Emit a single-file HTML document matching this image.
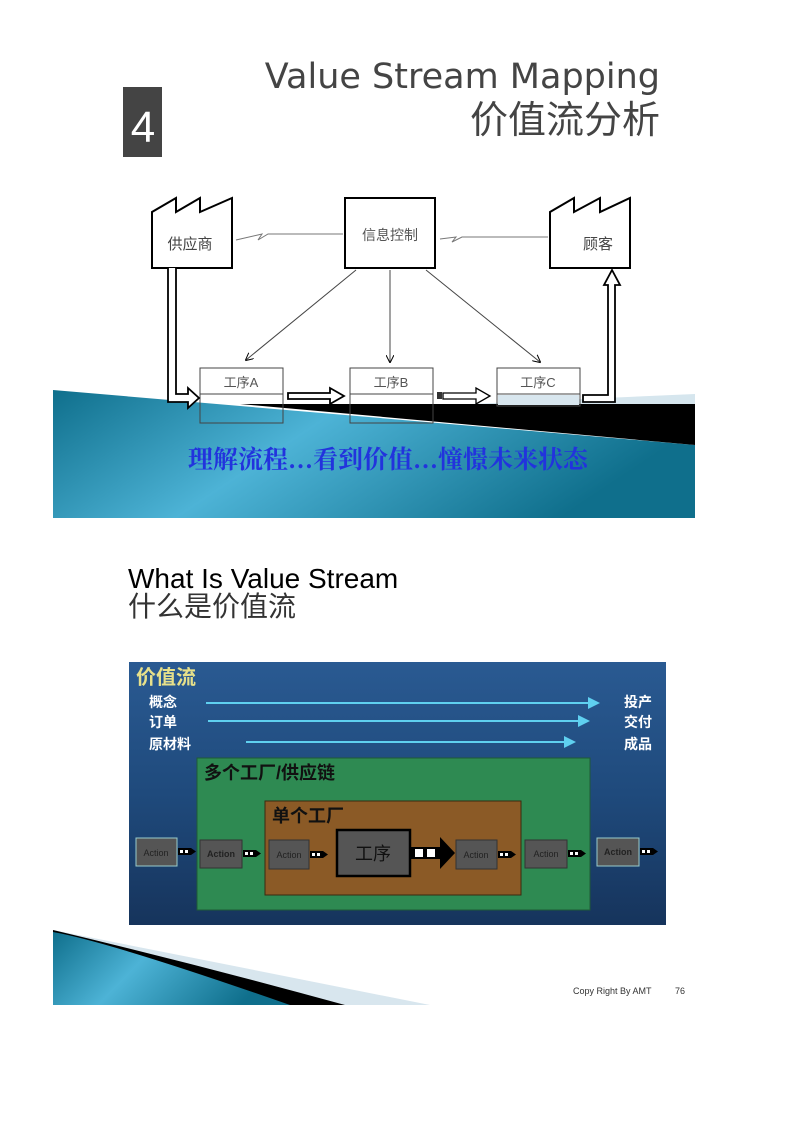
<!DOCTYPE html>
<html><head><meta charset="utf-8"><style>
body{margin:0;background:#fff;}
svg{display:block;}
text{font-family:"Liberation Sans","Noto Sans CJK SC",sans-serif;}
</style></head><body>
<svg width="794" height="1123" viewBox="0 0 794 1123">
<defs>
<linearGradient id="teal" x1="0" y1="0" x2="1" y2="0.3">
<stop offset="0" stop-color="#0f6f8c"/><stop offset="0.45" stop-color="#4db3d6"/><stop offset="1" stop-color="#0f6f8c"/>
</linearGradient>
<linearGradient id="navy" x1="0" y1="0" x2="0" y2="1">
<stop offset="0" stop-color="#2a5a92"/><stop offset="0.5" stop-color="#1f4a7c"/><stop offset="1" stop-color="#16345c"/>
</linearGradient>
<marker id="ah" markerWidth="8" markerHeight="8" refX="7" refY="4" orient="auto"><path d="M0,0 L8,4 L0,8" fill="none" stroke="#000" stroke-width="1"/></marker>
<marker id="ahc" markerWidth="6" markerHeight="6" refX="5" refY="3" orient="auto"><path d="M0,0 L6,3 L0,6z" fill="#5fd0f0"/></marker>
</defs>

<!-- header -->
<rect x="123" y="87" width="39" height="70" fill="#444"/>
<text x="143" y="142" font-size="44" fill="#fff" text-anchor="middle">4</text>
<text x="660" y="88" fill="#444" text-anchor="end" style="font-family:'DejaVu Sans',sans-serif;font-size:35px">Value Stream Mapping</text>
<text x="660" y="133" font-size="38" fill="#444" text-anchor="end">价值流分析</text>

<!-- banner -->
<polygon points="53,390 695,445 695,518 53,518" fill="url(#teal)"/>
<polygon points="470,404 695,394 695,404" fill="#d6e6ee"/>
<polygon points="240,404 695,404 695,445" fill="#000"/>
<text x="388" y="468" fill="#2233dd" text-anchor="middle" font-weight="bold" style="font-family:'Liberation Serif','Noto Serif CJK SC',serif;font-size:25px">理解流程…看到价值…憧憬未来状态</text>

<!-- factories -->
<path d="M152,268 L152,212 L176,198 L176,212 L200,198 L200,212 L232,198 L232,268 Z" fill="#fff" stroke="#000" stroke-width="2"/>
<text x="190" y="249" font-size="15" fill="#444" text-anchor="middle">供应商</text>
<path d="M550,268 L550,212 L574,198 L574,212 L600,198 L600,212 L630,198 L630,268 Z" fill="#fff" stroke="#000" stroke-width="2"/>
<text x="598" y="249" font-size="15" fill="#444" text-anchor="middle">顾客</text>
<rect x="345" y="198" width="90" height="70" fill="#fff" stroke="#000" stroke-width="2"/>
<text x="390" y="240" font-size="14" fill="#555" text-anchor="middle">信息控制</text>

<!-- info lines -->
<path d="M343,234 L268,234 L258,240 L262,234 L236,240" fill="none" stroke="#777" stroke-width="1"/>
<path d="M548,237 L462,237 L452,242 L456,237 L440,239" fill="none" stroke="#777" stroke-width="1"/>
<line x1="356" y1="270" x2="246" y2="360" stroke="#444" marker-end="url(#ah)"/>
<line x1="390" y1="270" x2="390" y2="362" stroke="#444" marker-end="url(#ah)"/>
<line x1="426" y1="270" x2="540" y2="362" stroke="#444" marker-end="url(#ah)"/>

<!-- process boxes -->
<g fill="none" stroke="#444" stroke-width="1">
<rect x="200" y="368" width="83" height="55"/><line x1="200" y1="394" x2="283" y2="394"/>
<rect x="350" y="368" width="83" height="55"/><line x1="350" y1="394" x2="433" y2="394"/>
<rect x="497" y="368" width="83" height="38"/><line x1="497" y1="394" x2="580" y2="394"/>
</g>
<rect x="201" y="369" width="81" height="24" fill="#fff"/>
<rect x="351" y="369" width="81" height="24" fill="#fff"/>
<rect x="498" y="369" width="81" height="24" fill="#fff"/>
<rect x="498" y="395" width="81" height="10" fill="#d8e6ee"/>
<text x="241" y="387" font-size="13" fill="#555" text-anchor="middle">工序A</text>
<text x="391" y="387" font-size="13" fill="#555" text-anchor="middle">工序B</text>
<text x="538" y="387" font-size="13" fill="#555" text-anchor="middle">工序C</text>

<!-- push arrows -->
<path d="M168,268 L168,402 L188,402 L188,408 L199,398 L188,388 L188,394 L176,394 L176,268" fill="#fff" stroke="#000" stroke-width="1.8"/>
<path d="M288,393 L330,393 L330,388 L344,396 L330,404 L330,399 L288,399 Z" fill="#fff" stroke="#000" stroke-width="1.8"/>
<rect x="437" y="392" width="5" height="7" fill="#333"/>
<path d="M443,393 L476,393 L476,388 L490,396 L476,404 L476,399 L443,399 Z" fill="#fff" stroke="#000" stroke-width="1.3"/>
<path d="M583,402 L615,402 L615,285 L620,285 L612,270 L604,285 L608,285 L608,395 L583,395 Z" fill="#fff" stroke="#000" stroke-width="1.8"/>

<!-- section 2 title -->
<text x="128" y="588" font-size="28" fill="#000">What Is Value Stream</text>
<text x="128" y="616" font-size="28" fill="#333">什么是价值流</text>

<!-- value stream panel -->
<rect x="129" y="662" width="537" height="263" fill="url(#navy)"/>
<text x="136" y="684" font-size="20" font-weight="bold" fill="#e6e08a">价值流</text>
<g font-size="14" font-weight="bold" fill="#fff">
<text x="149" y="707">概念</text><text x="149" y="727">订单</text><text x="149" y="749">原材料</text>
<text x="624" y="707">投产</text><text x="624" y="727">交付</text><text x="624" y="749">成品</text>
</g>
<line x1="206" y1="703" x2="598" y2="703" stroke="#5fd0f0" stroke-width="2" marker-end="url(#ahc)"/>
<line x1="208" y1="721" x2="588" y2="721" stroke="#5fd0f0" stroke-width="2" marker-end="url(#ahc)"/>
<line x1="246" y1="742" x2="574" y2="742" stroke="#5fd0f0" stroke-width="2" marker-end="url(#ahc)"/>
<rect x="197" y="758" width="393" height="152" fill="#2e8a52" stroke="#1e5a36"/>
<text x="204" y="779" font-size="18" font-weight="bold" fill="#111">多个工厂/供应链</text>
<rect x="265" y="801" width="256" height="94" fill="#8b5a26" stroke="#3a2a10"/>
<text x="272" y="822" font-size="18" font-weight="bold" fill="#111">单个工厂</text>
<rect x="337" y="830" width="73" height="46" fill="#555" stroke="#000" stroke-width="2.5"/>
<text x="373" y="860" font-size="18" fill="#111" text-anchor="middle">工序</text>
<rect x="410" y="847" width="30" height="12" fill="#000"/>
<rect x="415" y="849" width="8" height="8" fill="#fff"/><rect x="427" y="849" width="8" height="8" fill="#fff"/>
<polygon points="440,837 455,853 440,869" fill="#000"/>
<g font-size="9" fill="#222" text-anchor="middle">
<rect x="136" y="838" width="41" height="28" fill="#555" stroke="#9cc"/><text x="156" y="856">Action</text>
<rect x="200" y="840" width="42" height="28" fill="#555" stroke="#333"/><text x="221" y="857" font-weight="bold">Action</text>
<rect x="269" y="840" width="40" height="29" fill="#555" stroke="#333"/><text x="289" y="858">Action</text>
<rect x="456" y="840" width="41" height="29" fill="#555" stroke="#333"/><text x="476" y="858">Action</text>
<rect x="525" y="840" width="42" height="28" fill="#555" stroke="#333"/><text x="546" y="857">Action</text>
<rect x="597" y="838" width="42" height="28" fill="#555" stroke="#9cc"/><text x="618" y="855" font-weight="bold">Action</text>
</g>
<g>
<g transform="translate(178,848)"><rect width="13" height="7" fill="#000"/><rect x="2" y="2" width="3" height="3" fill="#fff"/><rect x="7" y="2" width="3" height="3" fill="#fff"/><polygon points="13,0 18,3.5 13,7" fill="#000"/></g>
<g transform="translate(243,850)"><rect width="13" height="7" fill="#000"/><rect x="2" y="2" width="3" height="3" fill="#fff"/><rect x="7" y="2" width="3" height="3" fill="#fff"/><polygon points="13,0 18,3.5 13,7" fill="#000"/></g>
<g transform="translate(310,851)"><rect width="13" height="7" fill="#000"/><rect x="2" y="2" width="3" height="3" fill="#fff"/><rect x="7" y="2" width="3" height="3" fill="#fff"/><polygon points="13,0 18,3.5 13,7" fill="#000"/></g>
<g transform="translate(498,851)"><rect width="13" height="7" fill="#000"/><rect x="2" y="2" width="3" height="3" fill="#fff"/><rect x="7" y="2" width="3" height="3" fill="#fff"/><polygon points="13,0 18,3.5 13,7" fill="#000"/></g>
<g transform="translate(568,850)"><rect width="13" height="7" fill="#000"/><rect x="2" y="2" width="3" height="3" fill="#fff"/><rect x="7" y="2" width="3" height="3" fill="#fff"/><polygon points="13,0 18,3.5 13,7" fill="#000"/></g>
<g transform="translate(640,848)"><rect width="13" height="7" fill="#000"/><rect x="2" y="2" width="3" height="3" fill="#fff"/><rect x="7" y="2" width="3" height="3" fill="#fff"/><polygon points="13,0 18,3.5 13,7" fill="#000"/></g>
</g>

<!-- footer swoosh -->
<polygon points="53,930 430,1005 53,1005" fill="#d8e6ee"/>
<path d="M53,930 Q200,965 345,1005 L53,1005 Z" fill="#000"/>
<path d="M53,932 Q110,942 290,1005 L53,1005 Z" fill="url(#teal)"/>
<text x="573" y="994" font-size="9" fill="#333">Copy Right By AMT</text>
<text x="675" y="994" font-size="9" fill="#333">76</text>
</svg>
</body></html>
